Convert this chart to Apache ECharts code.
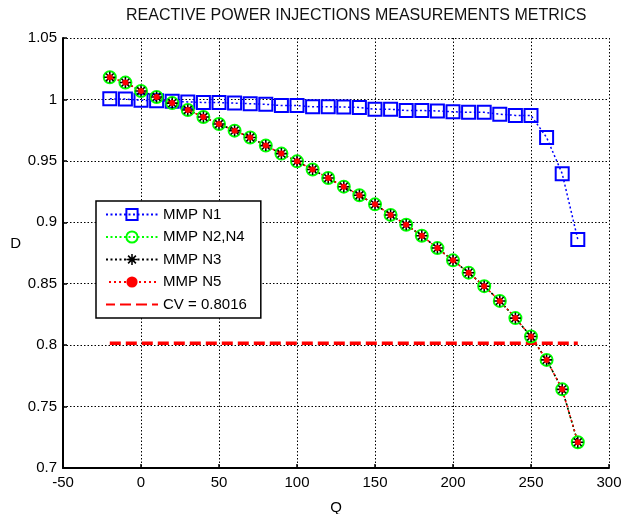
<!DOCTYPE html>
<html>
<head>
<meta charset="utf-8">
<script src="https://cdn.jsdelivr.net/npm/echarts@6/dist/echarts.min.js"></script>
<style>
  html, body { margin: 0; padding: 0; background: #fff; }
  #chart { width: 622px; height: 514px; }
</style>
</head>
<body>
<div id="chart"></div>
<script>
// Q values (x)
const qValues = [-20, -10, 0, 10, 20, 30, 40, 50, 60, 70, 80, 90, 100, 110, 120, 130,
  140, 150, 160, 170, 180, 190, 200, 210, 220, 230, 240, 250, 260, 270, 280]

// D values per measurement set
const mmpN1 = [1.0005, 1.0003, 0.9993, 0.999, 0.9985, 0.998, 0.9975, 0.9975, 0.997, 0.9965,
  0.996, 0.995, 0.995, 0.994, 0.994, 0.9938, 0.9935, 0.992, 0.992, 0.991, 0.991, 0.9906,
  0.990, 0.9895, 0.9895, 0.988, 0.987, 0.987, 0.969, 0.9396, 0.886]
const mmpN2N4 = [1.018, 1.0137, 1.0069, 1.002, 0.997, 0.9914, 0.9857, 0.980, 0.9746, 0.969,
  0.9624, 0.9559, 0.9496, 0.943, 0.936, 0.929, 0.922, 0.9146, 0.906, 0.898, 0.889, 0.879,
  0.869, 0.859, 0.848, 0.836, 0.822, 0.807, 0.788, 0.764, 0.721]
const mmpN3 = [1.018, 1.0137, 1.0069, 1.002, 0.997, 0.9914, 0.9857, 0.980, 0.9746, 0.969,
  0.9624, 0.9559, 0.9496, 0.943, 0.936, 0.929, 0.922, 0.9146, 0.906, 0.898, 0.889, 0.879,
  0.869, 0.859, 0.848, 0.836, 0.822, 0.807, 0.788, 0.764, 0.721]
const mmpN5 = [1.018, 1.0137, 1.0069, 1.002, 0.997, 0.9914, 0.9857, 0.980, 0.9746, 0.969,
  0.9624, 0.9559, 0.9496, 0.943, 0.936, 0.929, 0.922, 0.9146, 0.906, 0.898, 0.889, 0.879,
  0.869, 0.859, 0.848, 0.836, 0.822, 0.807, 0.788, 0.764, 0.721]
const cvValue = 0.8016

const seriesNames = ['MMP N1', 'MMP N2,N4', 'MMP N3', 'MMP N5', 'CV = 0.8016']

const FONT = 'Liberation Sans, Arial, sans-serif'
const dots = [2, 2.5]
const asterisk = 'path://M0 4.3L10 4.3L10 5.7L0 5.7Z M4.3 0L5.7 0L5.7 10L4.3 10Z M1 2L2 1L9 8L8 9Z M8 1L9 2L2 9L1 8Z'

const pairs = (ys) => qValues.map((q, i) => [q, ys[i]])

const chart = echarts.init(document.getElementById('chart'), null, { renderer: 'canvas' })

const option = {
  animation: false,
  backgroundColor: '#fff',
  title: {
    text: 'REACTIVE POWER INJECTIONS MEASUREMENTS METRICS',
    left: 126,
    top: 8,
    padding: 0,
    textStyle: { fontFamily: FONT, fontSize: 16, fontWeight: 'normal', color: '#111' }
  },
  grid: { left: 63, right: 13, top: 38, bottom: 46, containLabel: false, outerBoundsMode: 'none' },
  legend: {
    orient: 'vertical',
    left: 96,
    top: 201,
    padding: [6, 14, 6, 9],
    itemWidth: 52,
    itemHeight: 14,
    itemGap: 7.5,
    backgroundColor: '#fff',
    borderColor: '#000',
    borderWidth: 1.5,
    borderRadius: 0,
    data: seriesNames,
    textStyle: { fontFamily: FONT, fontSize: 15, lineHeight: 15, color: '#000' }
  },
  xAxis: {
    type: 'value',
    min: -50,
    max: 300,
    interval: 50,
    name: 'Q',
    nameLocation: 'middle',
    nameGap: 32,
    nameTextStyle: { fontFamily: FONT, fontSize: 15, color: '#000' },
    axisLine: { show: true, onZero: false, lineStyle: { color: '#000', width: 2 } },
    axisTick: { show: true, inside: true, length: 4, lineStyle: { color: '#000', width: 1.5 } },
    axisLabel: { fontFamily: FONT, fontSize: 15, color: '#000', margin: 7 },
    splitLine: { show: true, lineStyle: { color: '#000', width: 1, type: [1.5, 2] } }
  },
  yAxis: {
    type: 'value',
    min: 0.7,
    max: 1.05,
    interval: 0.05,
    name: 'D',
    nameLocation: 'middle',
    nameRotate: 0,
    nameGap: 42,
    nameTextStyle: { fontFamily: FONT, fontSize: 15, color: '#000', verticalAlign: 'bottom', padding: [0, 0, 2, 0] },
    axisLine: { show: true, onZero: false, lineStyle: { color: '#000', width: 2 } },
    axisTick: { show: true, inside: true, length: 4, lineStyle: { color: '#000', width: 1.5 } },
    axisLabel: {
      fontFamily: FONT, fontSize: 15, color: '#000', margin: 6,
      formatter: (v) => String(parseFloat(v.toFixed(2)))
    },
    splitLine: { show: true, lineStyle: { color: '#000', width: 1, type: [1.5, 2] } }
  },
  series: [
    {
      name: seriesNames[0],
      type: 'line',
      data: pairs(mmpN1),
      showAllSymbol: true,
      symbol: 'rect',
      symbolSize: 13,
      itemStyle: { color: 'rgba(0,0,0,0)', borderColor: '#0000ff', borderWidth: 2 },
      lineStyle: { color: '#0000ff', width: 1.5, type: dots }
    },
    {
      name: seriesNames[1],
      type: 'line',
      data: pairs(mmpN2N4),
      showAllSymbol: true,
      symbol: 'circle',
      symbolSize: 12,
      itemStyle: { color: 'rgba(0,0,0,0)', borderColor: '#00ff00', borderWidth: 2 },
      lineStyle: { color: '#00ff00', width: 1.5, type: dots }
    },
    {
      name: seriesNames[2],
      type: 'line',
      data: pairs(mmpN3),
      showAllSymbol: true,
      symbol: asterisk,
      symbolSize: 11,
      itemStyle: { color: '#000' },
      lineStyle: { color: '#000', width: 1.5, type: dots }
    },
    {
      name: seriesNames[3],
      type: 'line',
      data: pairs(mmpN5),
      showAllSymbol: true,
      symbol: 'circle',
      symbolSize: 6,
      itemStyle: { color: '#ff0000' },
      lineStyle: { color: '#ff0000', width: 1.5, type: [2, 3], dashOffset: 2 }
    },
    {
      name: seriesNames[4],
      type: 'line',
      data: [[qValues[0], cvValue], [qValues[qValues.length - 1], cvValue]],
      symbol: 'circle',
      showSymbol: false,
      itemStyle: { color: 'rgba(0,0,0,0)' },
      lineStyle: { color: '#ff0000', width: 3.5, type: [11, 5] }
    }
  ]
}

chart.setOption(option)
</script>
</body>
</html>
